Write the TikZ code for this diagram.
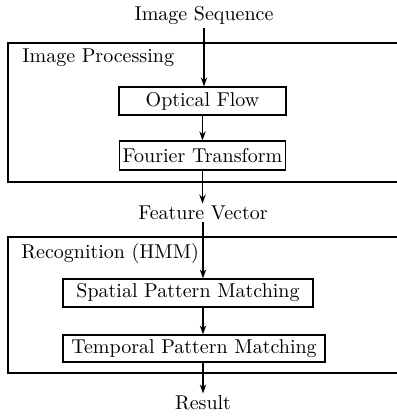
\documentclass[tikz,border=0pt]{standalone}
\usetikzlibrary{arrows.meta}
\begin{document}
\begin{tikzpicture}[x=0.5pt,y=-0.5pt,
  box/.style={draw,line width=0.6pt,inner sep=0pt,minimum height=14pt},
  frame/.style={draw,line width=0.6pt,inner sep=0pt},
  lbl/.style={inner sep=1pt,font=\fontsize{10}{12}\selectfont},
  arr/.style={-{Stealth[length=4.5pt,width=3.2pt]},line width=0.6pt},
  font=\fontsize{10}{12}\selectfont]
\useasboundingbox (0,0) rectangle (396,416);
% frames
\node[frame,minimum width=196pt,minimum height=69.5pt] (ipf) at (204,112.5) {};
\node[frame,minimum width=196pt,minimum height=68pt] (rf) at (204,305) {};
\node[lbl,anchor=west] (iplbl) at (20,58) {Image Processing};
\node[lbl,anchor=west] (rlbl) at (19,253) {Recognition (HMM)};
% texts
\node[lbl] (seq) at (204,16) {Image Sequence};
\node[lbl] (fv) at (203,213) {Feature Vector};
\node[lbl] (res) at (203,403) {Result};
% boxes
\node[box,minimum width=83.5pt] (of) at (202.5,101) {Optical Flow};
\node[box,minimum width=83pt,minimum height=14.5pt] (ft) at (202.5,155.5) {Fourier Transform};
\node[box,minimum width=125pt] (sp) at (188,293) {Spatial Pattern Matching};
\node[box,minimum width=131pt,minimum height=13.5pt] (tp) at (194,348.5) {Temporal Pattern Matching};
% arrows
\draw[arr] (seq.south) -- (seq.south |- of.north);
\draw[arr] (of.south) -- (ft.north);
\draw[arr] (ft.south) -- (ft.south |- fv.north);
\draw[arr] (fv.south) -- (fv.south |- sp.north);
\draw[arr] (fv.south |- sp.south) -- (fv.south |- tp.north);
\draw[arr] (fv.south |- tp.south) -- (res.north);
\end{tikzpicture}
\end{document}
